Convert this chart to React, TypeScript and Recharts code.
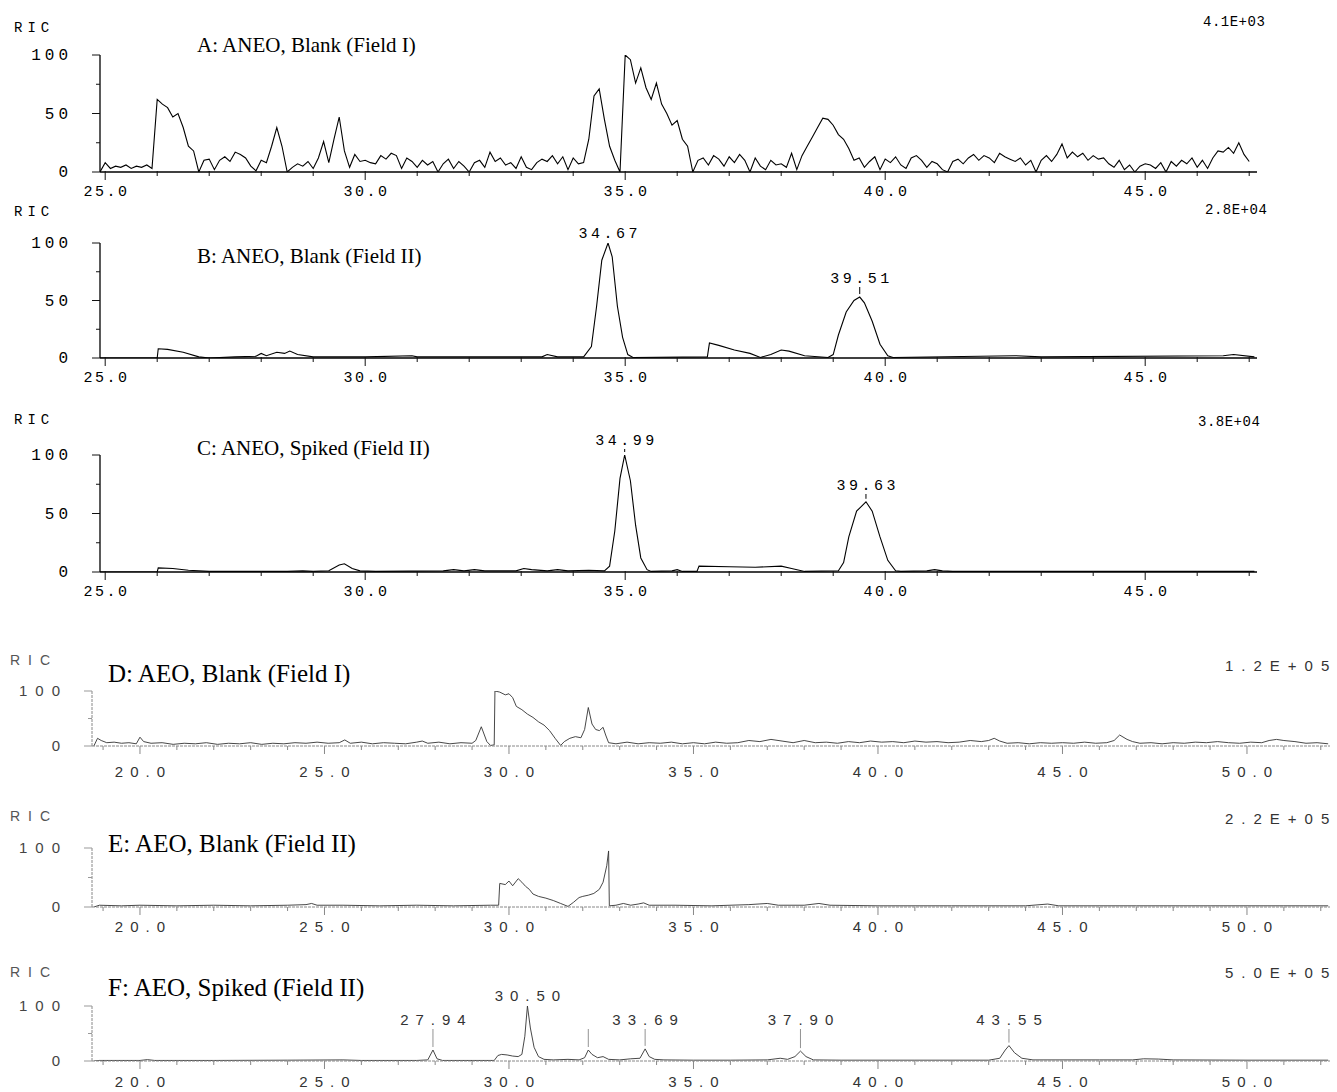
import React from 'react';
import { LineChart, Line, XAxis, YAxis, ReferenceDot } from 'recharts';

// ---- data (time in min, signal in % of scale) ----

// A: ANEO blank, field I — regular scan grid
const aStart = 24.9;
const aStep = 0.1;
const aSignal = [
  0,
  8, 3, 5, 4, 6, 3, 5, 4, 6, 3,
  62, 58, 55, 47, 50, 38, 22, 18, 0, 10,
  11, 2, 10, 13, 9, 17, 15, 12, 5, 1,
  10, 8, 22, 38, 22, 0, 4, 7, 5, 9,
  3, 12, 26, 8, 28, 47, 18, 4, 15, 9,
  10, 8, 7, 14, 11, 16, 14, 3, 12, 9,
  4, 10, 6, 9, 0, 7, 11, 3, 9, 5,
  0, 8, 10, 4, 17, 9, 12, 6, 8, 3,
  13, 4, 2, 8, 11, 9, 14, 7, 13, 2,
  12, 7, 8, 28, 65, 71, 45, 22, 10, 0,
  100, 96, 76, 89, 72, 62, 76, 58, 50, 40,
  44, 28, 22, 0, 10, 12, 6, 14, 11, 5,
  13, 8, 15, 10, 0, 12, 5, 2, 10, 6,
  7, 4, 16, 2, 14, 22, 30, 38, 46, 45,
  40, 32, 28, 20, 10, 12, 4, 9, 13, 2,
  11, 8, 13, 6, 3, 12, 14, 10, 4, 9,
  7, 2, 0, 9, 11, 7, 12, 15, 10, 14,
  12, 8, 16, 13, 11, 9, 12, 6, 10, 0,
  10, 14, 9, 15, 24, 12, 17, 13, 16, 10,
  14, 11, 12, 7, 4, 10, 2, 6, 0, 5,
  7, 6, 3, 8, 0, 9, 5, 10, 7, 12,
  4, 10, 3, 12, 18, 17, 21, 16, 25, 15,
  9,
];

// B: ANEO blank, field II
const bPoints: [number, number][] = [
  [24.9, 0], [26.0, 0], [26.02, 8], [26.2, 7.5], [26.5, 5], [26.8, 1], [27.0, 0], [27.5, 1], [27.9, 1.5],
  [28.0, 4], [28.1, 2], [28.3, 5], [28.45, 4], [28.55, 6], [28.7, 3], [29.0, 1], [30.0, 1], [30.9, 2],
  [31.0, 1], [33.4, 1], [33.5, 3], [33.7, 1], [34.2, 1], [34.35, 10], [34.45, 45], [34.55, 85], [34.67, 100],
  [34.75, 88], [34.85, 45], [34.95, 18], [35.05, 3], [35.15, 0.5], [36.58, 1], [36.62, 13], [36.8, 11],
  [37.1, 7], [37.4, 4], [37.6, 0.5], [37.8, 3], [38.0, 7], [38.15, 6], [38.45, 2], [38.9, 0.5], [39.0, 3],
  [39.1, 20], [39.25, 40], [39.4, 50], [39.51, 53], [39.6, 48], [39.75, 32], [39.9, 12], [40.05, 2],
  [40.15, 0.5], [42.5, 2], [43.0, 1], [46.5, 2], [46.7, 3], [47.1, 1],
];
const bPeakTimes = [34.67, 39.51];

// C: ANEO spiked, field II
const cPoints: [number, number][] = [
  [24.9, 0], [26.0, 0], [26.02, 3.5], [26.3, 3], [26.6, 1.5], [27.0, 0.5], [28.5, 0.5], [28.8, 1], [29.0, 0.5],
  [29.3, 1], [29.5, 6], [29.6, 7], [29.75, 3], [29.9, 1], [30.2, 0.5], [31.5, 1], [31.7, 2], [31.9, 1],
  [32.1, 2], [32.3, 1], [32.9, 1], [33.05, 3], [33.2, 2], [33.5, 1], [33.7, 2], [33.9, 1], [34.3, 1.5],
  [34.6, 1], [34.7, 5], [34.8, 35], [34.9, 80], [34.99, 100], [35.1, 78], [35.2, 40], [35.3, 12], [35.42, 2],
  [35.5, 0.5], [35.9, 1], [36.0, 2], [36.1, 0.5], [36.38, 0.5], [36.42, 5], [37.0, 4.5], [37.5, 4], [38.0, 5],
  [38.2, 3], [38.45, 0.5], [39.1, 1], [39.2, 8], [39.3, 30], [39.45, 52], [39.63, 60], [39.75, 52],
  [39.9, 30], [40.05, 10], [40.2, 1], [40.3, 0.5], [40.8, 1], [40.95, 2], [41.1, 1], [41.3, 0.5], [47.1, 0.5],
];
const cPeakTimes = [34.99, 39.63];

// D: AEO blank, field I
const dPoints: [number, number][] = [
  [18.75, 0], [18.85, 14], [18.95, 10], [19.1, 6], [19.3, 7], [19.5, 5], [19.7, 6], [19.9, 4], [20.0, 16],
  [20.1, 8], [20.3, 5], [20.6, 6], [20.9, 3], [21.2, 5], [21.5, 4], [21.8, 6], [22.1, 3], [22.4, 5],
  [22.7, 4], [23.0, 6], [23.3, 3], [23.6, 5], [23.9, 4], [24.2, 6], [24.5, 5], [24.8, 7], [25.1, 5],
  [25.4, 6], [25.55, 11], [25.7, 5], [26.0, 7], [26.3, 4], [26.6, 6], [26.9, 5], [27.2, 4], [27.5, 7],
  [27.65, 9], [27.8, 5], [28.1, 7], [28.4, 4], [28.7, 6], [29.0, 5], [29.1, 10], [29.25, 35], [29.4, 8],
  [29.5, 1], [29.6, 2], [29.62, 100], [29.75, 98], [29.9, 93], [30.0, 95], [30.1, 88], [30.2, 72],
  [30.35, 66], [30.5, 58], [30.65, 52], [30.8, 44], [30.95, 38], [31.1, 28], [31.25, 14], [31.4, 1],
  [31.5, 8], [31.65, 14], [31.8, 17], [31.95, 15], [32.05, 30], [32.15, 70], [32.25, 40], [32.35, 30],
  [32.45, 28], [32.55, 34], [32.62, 20], [32.7, 6], [32.9, 4], [33.2, 7], [33.5, 4], [33.8, 6], [34.1, 5],
  [34.4, 7], [34.7, 4], [35.0, 6], [35.3, 4], [35.6, 7], [35.9, 5], [36.2, 6], [36.5, 10], [36.8, 8],
  [37.1, 12], [37.4, 9], [37.7, 6], [38.0, 10], [38.3, 6], [38.6, 7], [38.9, 5], [39.2, 8], [39.5, 6],
  [39.8, 9], [40.1, 7], [40.4, 8], [40.7, 6], [41.0, 9], [41.3, 7], [41.6, 8], [41.9, 6], [42.2, 7],
  [42.5, 10], [42.8, 8], [43.0, 10], [43.15, 14], [43.3, 9], [43.5, 5], [43.8, 6], [44.1, 4], [44.4, 6],
  [44.7, 5], [45.0, 6], [45.3, 5], [45.6, 7], [45.9, 5], [46.2, 6], [46.4, 10], [46.55, 20], [46.75, 12],
  [46.9, 8], [47.1, 5], [47.4, 6], [47.7, 4], [48.0, 6], [48.3, 5], [48.6, 7], [48.9, 6], [49.2, 8],
  [49.5, 6], [49.8, 5], [50.1, 7], [50.4, 6], [50.6, 10], [50.8, 12], [51.0, 10], [51.3, 8], [51.6, 5],
  [51.9, 6], [52.2, 4],
];

// E: AEO blank, field II
const ePoints: [number, number][] = [
  [18.75, 0], [18.9, 3], [19.5, 2], [20.0, 3], [21.0, 2], [22.0, 3], [23.0, 2], [24.0, 3], [24.5, 4],
  [24.65, 6], [24.8, 3], [25.5, 3], [26.5, 2], [27.5, 3], [28.5, 2], [29.5, 3], [29.72, 3], [29.75, 40],
  [29.9, 38], [30.0, 44], [30.1, 36], [30.25, 48], [30.35, 42], [30.45, 35], [30.55, 30], [30.65, 22],
  [30.8, 18], [31.0, 15], [31.2, 11], [31.4, 6], [31.6, 1], [31.75, 8], [31.9, 16], [32.0, 18],
  [32.15, 20], [32.3, 23], [32.45, 30], [32.55, 42], [32.65, 70], [32.7, 95], [32.72, 2], [32.9, 3],
  [33.1, 6], [33.3, 3], [33.5, 5], [33.65, 7], [33.8, 3], [34.5, 3], [35.5, 2], [36.5, 4], [37.0, 6],
  [37.3, 3], [38.0, 3], [38.4, 6], [38.7, 3], [40.0, 2], [42.0, 2], [44.0, 2], [44.6, 5], [44.9, 2],
  [47.0, 2], [49.0, 2], [51.0, 2], [52.2, 2],
];

// F: AEO spiked, field II
const fPoints: [number, number][] = [
  [18.75, 0], [18.9, 1], [20.0, 1], [20.2, 2.5], [20.4, 1], [22.0, 1], [24.0, 1.5], [25.5, 2], [26.0, 1],
  [27.5, 1], [27.8, 2], [27.94, 20], [28.05, 4], [28.2, 1], [29.0, 1], [29.6, 1], [29.7, 10], [29.8, 12],
  [29.95, 11], [30.1, 9], [30.25, 8], [30.35, 12], [30.43, 45], [30.5, 100], [30.58, 60], [30.68, 25],
  [30.8, 8], [30.95, 3], [31.2, 2], [31.6, 3], [31.9, 2], [32.05, 6], [32.15, 20], [32.25, 12], [32.4, 6],
  [32.55, 8], [32.7, 3], [33.0, 2], [33.3, 4], [33.55, 5], [33.69, 22], [33.8, 8], [33.95, 3], [34.2, 2],
  [35.0, 1.5], [36.0, 1.5], [37.0, 2], [37.35, 5], [37.55, 3], [37.75, 8], [37.9, 18], [38.05, 8],
  [38.25, 2], [39.0, 1.5], [41.0, 1.5], [43.0, 1.5], [43.3, 5], [43.45, 20], [43.55, 28], [43.7, 15],
  [43.9, 5], [44.2, 2], [46.0, 2], [46.9, 2], [47.2, 4], [47.6, 3.5], [48.0, 2], [50.0, 1.5], [52.2, 1.5],
];
const fMarkTimes = [27.94, 30.5, 32.15, 33.69, 37.9, 43.55];
const fMarkLabels = ['27.94', '30.50', '', '33.69', '37.90', '43.55'];

const ticksAC = [25, 26, 27, 28, 29, 30, 31, 32, 33, 34, 35, 36, 37, 38, 39, 40, 41, 42, 43, 44, 45, 46, 47];
const ticksDF = [19, 20, 21, 22, 23, 24, 25, 26, 27, 28, 29, 30, 31, 32, 33, 34, 35, 36, 37, 38, 39, 40, 41, 42, 43, 44, 45, 46, 47, 48, 49, 50, 51, 52];
const yTicksAC = [0, 25, 50, 75, 100];
const yTicksDF = [0, 50, 100];

type Pt = { t: number; v: number };
const aData: Pt[] = aSignal.map((v, i) => ({ t: +(aStart + i * aStep).toFixed(2), v }));
const toPts = (p: [number, number][]): Pt[] => p.map(([t, v]) => ({ t, v }));

const valueAt = (data: Pt[], t: number) =>
  data.reduce((best, p) => (Math.abs(p.t - t) < Math.abs(best.t - t) ? p : best), data[0]).v;

const MONO = '"Liberation Mono", "DejaVu Sans Mono", monospace';
const SCAN = '"Liberation Sans", "DejaVu Sans", sans-serif';
const SERIF = '"Liberation Serif", "DejaVu Serif", serif';

type Variant = 'print' | 'scan';

function XTick(props: any) {
  const { x, y, payload, variant, labelOffset } = props;
  const v = payload.value as number;
  const major = v % 5 === 0;
  const scan = variant === 'scan';
  const ls = scan ? 7 : 2.5;
  return (
    <g>
      <line x1={x} x2={x} y1={y - (scan ? 0 : 1)} y2={y + (major ? 8 : 4)} stroke={scan ? '#888' : '#111'} strokeWidth={1} />
      {major && (
        <text
          x={x + ls / 2}
          y={y + labelOffset}
          textAnchor="middle"
          fontFamily={scan ? SCAN : MONO}
          fontSize={15}
          letterSpacing={ls}
          fill={scan ? '#333' : '#000'}
        >
          {v.toFixed(1)}
        </text>
      )}
    </g>
  );
}

function YTick(props: any) {
  const { x, y, payload, variant } = props;
  const v = payload.value as number;
  const scan = variant === 'scan';
  const labeled = v === 0 || v === 100 || (!scan && v === 50);
  return (
    <g>
      <line x1={x - (labeled ? 8 : 4)} x2={x} y1={y} y2={y} stroke={scan ? '#999' : '#111'} strokeWidth={1} />
      {labeled && (
        <text
          x={scan ? x - 24 : x - 28}
          y={y + 5}
          textAnchor="end"
          fontFamily={scan ? SCAN : MONO}
          fontSize={scan ? 15 : 16}
          letterSpacing={scan ? 8 : 4}
          fill={scan ? '#444' : '#000'}
        >
          {v}
        </text>
      )}
    </g>
  );
}

function PeakMark(props: any) {
  const { cx, cy, text, rowY, variant } = props;
  const scan = variant === 'scan';
  const ls = scan ? 7 : 3.5;
  const lineTop = rowY + 9;
  const lineBottom = cy - 3;
  return (
    <g>
      {lineBottom - lineTop > 1 && (
        <line x1={cx} x2={cx} y1={lineTop} y2={lineBottom} stroke={scan ? '#777' : '#000'} strokeWidth={scan ? 0.8 : 1} />
      )}
      {text && (
        <text
          x={cx + ls / 2}
          y={rowY + 5}
          textAnchor="middle"
          fontFamily={scan ? SCAN : MONO}
          fontSize={15}
          letterSpacing={ls}
          fill={scan ? '#333' : '#000'}
        >
          {text}
        </text>
      )}
    </g>
  );
}

type Box = { left: number; right: number; top: number; bottom: number };

function Panel({
  data, domain, xTicks, yTicks, box, variant, labelOffset, marks = [], labels = [], rows = [],
}: {
  data: Pt[]; domain: [number, number]; xTicks: number[]; yTicks: number[]; box: Box; variant: Variant;
  labelOffset: number; marks?: number[]; labels?: string[]; rows?: number[];
}) {
  const mt = 34;
  const axisH = 40;
  const top = box.top - mt;
  const width = 1337;
  const height = mt + (box.bottom - box.top) + axisH;
  const scan = variant === 'scan';
  const axisStyle = scan
    ? { stroke: '#888', strokeWidth: 1, strokeDasharray: '3 1' }
    : { stroke: '#000', strokeWidth: 1.3 };
  return (
    <div style={{ position: 'absolute', left: 0, top }}>
      <LineChart width={width} height={height} data={data} margin={{ top: mt, right: width - box.right, bottom: 0, left: 0 }}>
        <XAxis
          type="number"
          dataKey="t"
          domain={domain}
          allowDataOverflow
          ticks={xTicks}
          interval={0}
          tickSize={0}
          tickMargin={0}
          height={axisH}
          axisLine={axisStyle}
          tickLine={false}
          tick={<XTick variant={variant} labelOffset={labelOffset} />}
        />
        <YAxis
          type="number"
          domain={[0, 100]}
          allowDataOverflow
          ticks={yTicks}
          interval={0}
          width={box.left}
          tickSize={0}
          tickMargin={0}
          axisLine={axisStyle}
          tickLine={false}
          tick={<YTick variant={variant} />}
        />
        <Line
          dataKey="v"
          type="linear"
          dot={false}
          isAnimationActive={false}
          stroke={scan ? '#333' : '#000'}
          strokeWidth={scan ? 0.9 : 1.1}
        />
        {marks.map((t, i) => (
          <ReferenceDot
            key={i}
            x={t}
            y={valueAt(data, t)}
            r={0}
            ifOverflow="visible"
            shape={(p: any) => (
              <PeakMark cx={p.cx} cy={p.cy} text={labels[i] ?? t.toFixed(2)} rowY={rows[i] - top} variant={variant} />
            )}
          />
        ))}
      </LineChart>
    </div>
  );
}

const abs = { position: 'absolute' as const, whiteSpace: 'nowrap' as const, lineHeight: 1, transform: 'translateY(-50%)' };

type LabelKind = 'ric' | 'scale' | 'title' | 'ricScan' | 'scaleScan' | 'titleScan';
const labelStyles: Record<LabelKind, React.CSSProperties> = {
  ric: { fontFamily: MONO, fontSize: 14, letterSpacing: 5, color: '#000' },
  ricScan: { fontFamily: SCAN, fontSize: 14, letterSpacing: 8, color: '#555' },
  scale: { fontFamily: MONO, fontSize: 14, letterSpacing: 0.5, color: '#000' },
  scaleScan: { fontFamily: SCAN, fontSize: 15, letterSpacing: 8, color: '#333' },
  title: { fontFamily: SERIF, fontSize: 21, color: '#000' },
  titleScan: { fontFamily: SERIF, fontSize: 25, color: '#000' },
};

function Label({ x, y, text, kind }: { x: number; y: number; text: string; kind: LabelKind }) {
  return <div style={{ ...abs, left: x, top: y, ...labelStyles[kind] }}>{text}</div>;
}

const boxA: Box = { left: 100, right: 1257, top: 55, bottom: 172 };
const boxB: Box = { left: 100, right: 1257, top: 243, bottom: 358 };
const boxC: Box = { left: 100, right: 1257, top: 455, bottom: 572 };
const boxD: Box = { left: 92, right: 1330, top: 691, bottom: 746 };
const boxE: Box = { left: 92, right: 1330, top: 848, bottom: 907 };
const boxF: Box = { left: 92, right: 1330, top: 1006, bottom: 1061 };
const domAC: [number, number] = [24.9, 47.15];
const domDF: [number, number] = [18.7, 52.25];

export default function App() {
  const bData = toPts(bPoints);
  const cData = toPts(cPoints);
  return (
    <div style={{ position: 'absolute', left: 0, top: 0, width: 1337, height: 1092, background: '#fff', overflow: 'hidden' }}>
      <Panel data={aData} domain={domAC} xTicks={ticksAC} yTicks={yTicksAC} box={boxA} variant="print" labelOffset={24} />
      <Panel
        data={bData} domain={domAC} xTicks={ticksAC} yTicks={yTicksAC} box={boxB} variant="print" labelOffset={24}
        marks={bPeakTimes} labels={bPeakTimes.map((t) => t.toFixed(2))} rows={[233, 278]}
      />
      <Panel
        data={cData} domain={domAC} xTicks={ticksAC} yTicks={yTicksAC} box={boxC} variant="print" labelOffset={24}
        marks={cPeakTimes} labels={cPeakTimes.map((t) => t.toFixed(2))} rows={[440, 485]}
      />
      <Panel data={toPts(dPoints)} domain={domDF} xTicks={ticksDF} yTicks={yTicksDF} box={boxD} variant="scan" labelOffset={31} />
      <Panel data={toPts(ePoints)} domain={domDF} xTicks={ticksDF} yTicks={yTicksDF} box={boxE} variant="scan" labelOffset={25} />
      <Panel
        data={toPts(fPoints)} domain={domDF} xTicks={ticksDF} yTicks={yTicksDF} box={boxF} variant="scan" labelOffset={26}
        marks={fMarkTimes} labels={fMarkLabels} rows={[1020, 996, 1020, 1020, 1020, 1020]}
      />

      <Label x={14} y={28} text="RIC" kind="ric" />
      <Label x={197} y={45} text="A: ANEO, Blank (Field I)" kind="title" />
      <Label x={1203} y={22} text="4.1E+03" kind="scale" />

      <Label x={14} y={212} text="RIC" kind="ric" />
      <Label x={197} y={256} text="B: ANEO, Blank (Field II)" kind="title" />
      <Label x={1205} y={210} text="2.8E+04" kind="scale" />

      <Label x={14} y={420} text="RIC" kind="ric" />
      <Label x={197} y={448} text="C: ANEO, Spiked (Field II)" kind="title" />
      <Label x={1198} y={422} text="3.8E+04" kind="scale" />

      <Label x={10} y={660} text="RIC" kind="ricScan" />
      <Label x={108} y={673} text="D: AEO, Blank (Field I)" kind="titleScan" />
      <Label x={1225} y={665} text="1.2E+05" kind="scaleScan" />

      <Label x={10} y={816} text="RIC" kind="ricScan" />
      <Label x={108} y={843} text="E: AEO, Blank (Field II)" kind="titleScan" />
      <Label x={1225} y={818} text="2.2E+05" kind="scaleScan" />

      <Label x={10} y={972} text="RIC" kind="ricScan" />
      <Label x={108} y={987} text="F: AEO, Spiked (Field II)" kind="titleScan" />
      <Label x={1225} y={972} text="5.0E+05" kind="scaleScan" />
    </div>
  );
}
